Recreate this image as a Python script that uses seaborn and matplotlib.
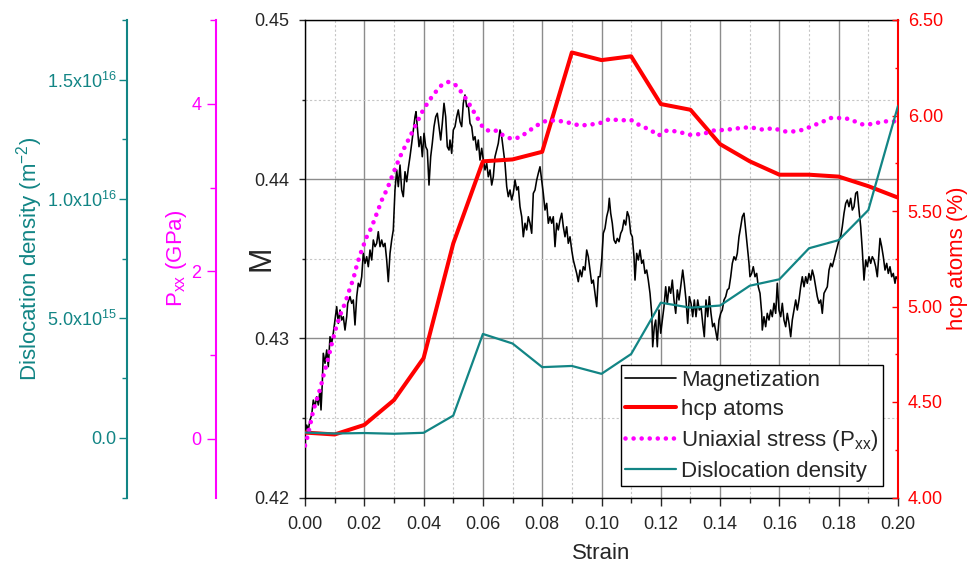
import matplotlib
matplotlib.use("Agg")
import matplotlib.pyplot as plt
from matplotlib.lines import Line2D
from matplotlib.ticker import MultipleLocator, FixedLocator, FormatStrFormatter
import seaborn as sns

# ---------------- data ----------------
strain_steps = [0.00, 0.01, 0.02, 0.03, 0.04, 0.05, 0.06, 0.07, 0.08, 0.09, 0.10,
                0.11, 0.12, 0.13, 0.14, 0.15, 0.16, 0.17, 0.18, 0.19, 0.20]
hcp_pct = [4.34, 4.33, 4.38, 4.51, 4.73, 5.33, 5.76, 5.77, 5.81, 6.33, 6.29,
           6.31, 6.06, 6.03, 5.85, 5.76, 5.69, 5.69, 5.68, 5.63, 5.57]
disloc = [2.2e14, 1.8e14, 2.0e14, 1.7e14, 2.1e14, 9.3e14, 4.35e15, 3.95e15, 2.96e15,
          3.01e15, 2.68e15, 3.51e15, 5.66e15, 5.45e15, 5.54e15, 6.37e15, 6.64e15,
          7.94e15, 8.28e15, 9.54e15, 1.39e16]

strain_p = [0.0, 0.0008, 0.0017, 0.0028, 0.0039, 0.0053, 0.0064, 0.0079, 0.009, 0.0105,
            0.012, 0.0135, 0.0149, 0.0163, 0.0176, 0.0191, 0.0208, 0.0225, 0.0242, 0.0259,
            0.0278, 0.0292, 0.0309, 0.0326, 0.0343, 0.036, 0.0377, 0.0393, 0.041, 0.0433,
            0.046, 0.0483, 0.0506, 0.0523, 0.0545, 0.0565, 0.0585, 0.0601, 0.0624, 0.0647,
            0.0669, 0.0697, 0.0725, 0.0753, 0.0781, 0.0815, 0.0849, 0.0883, 0.0927, 0.0961,
            0.0995, 0.1029, 0.1062, 0.1098, 0.113, 0.1164, 0.1192, 0.122, 0.1254, 0.1298,
            0.1343, 0.1377, 0.1422, 0.1467, 0.1501, 0.1546, 0.158, 0.1613, 0.1647, 0.1681,
            0.1714, 0.1743, 0.1771, 0.1804, 0.1833, 0.1861, 0.1883, 0.1917, 0.195, 0.199]
pxx = [-0.08, 0.02, 0.16, 0.34, 0.46, 0.62, 0.78, 0.97, 1.13, 1.33,
       1.49, 1.62, 1.77, 1.91, 2.09, 2.25, 2.41, 2.53, 2.69, 2.85,
       2.99, 3.12, 3.27, 3.41, 3.53, 3.65, 3.77, 3.89, 3.99, 4.11,
       4.22, 4.26, 4.23, 4.16, 4.05, 3.93, 3.81, 3.71, 3.67, 3.68,
       3.62, 3.58, 3.60, 3.67, 3.74, 3.80, 3.80, 3.78, 3.74, 3.75,
       3.77, 3.82, 3.80, 3.81, 3.74, 3.69, 3.62, 3.68, 3.67, 3.63,
       3.64, 3.68, 3.69, 3.71, 3.72, 3.69, 3.71, 3.67, 3.67, 3.69,
       3.74, 3.78, 3.83, 3.83, 3.82, 3.78, 3.75, 3.76, 3.79, 3.79]

strain_m = [
    0.0, .00057, .00111, .00169, .00226, .0028, .00337, .00395, .00449, .00506,
    .0054, .00583, .00617, .00675, .00732, .00786, .00843, .009, .00954, .01012,
    .01069, .01123, .0118, .01238, .01292, .01349, .01406, .0144, .01518, .01575,
    .01629, .01686, .01744, .01798, .01855, .01912, .01966, .02024, .02081, .02135,
    .02192, .0225, .02304, .02361, .02418, .02472, .0253, .02587, .02641, .02698,
    .02755, .02809, .02867, .02924, .02978, .03035, .03093, .03147, .03204, .03261,
    .03315, .03373, .0343, .03484, .03541, .03599, .03653, .0371, .03744, .03788,
    .03845, .03902, .03956, .04014, .04071, .04125, .04182, .04239, .04293, .04351,
    .04408, .04462, .04519, .04577, .04631, .04688, .04745, .04799, .04857,
    .0489, .04948, .05002, .05059, .05116, .0517, .05228, .05285, .05339, .05396,
    .05454, .05508, .05565, .05622, .05676, .05734, .05791, .05845, .05902, .0596,
    .06014, .06071, .06128, .06182, .0624, .06297, .06351, .06408, .06465, .06519,
    .06577, .06634, .06688, .06745, .06803, .06857, .06914, .06971, .07025, .07083,
    .0714, .07194, .07251, .07309, .07363, .0742, .07477, .07531, .07589, .07646,
    .077, .07757, .07815, .07869, .07926, .07983, .08037, .08094, .08152, .08206,
    .08263, .0832, .08374, .08432, .08489, .08543, .086, .08658, .08712, .08769,
    .08826, .0888, .08938, .08995, .09049, .09106, .09163, .09217, .09275, .09332,
    .09386, .09444, .09501, .09555, .09612, .09669, .09723, .09781, .09838, .09892,
    .09949, .10007, .10061, .10118, .10175, .10229, .10263, .1031, .10364, .10422,
    .10479, .10533, .1059, .10648, .10702, .10759, .10816, .1087, .10927, .10985,
    .11039, .11096, .1113, .11187, .11241, .11298, .11356, .1141, .11467, .11524,
    .11578, .11636, .11693, .11727, .11781, .11828, .11882, .11939, .11997, .12051,
    .12108, .12165, .12219, .12277, .12334, .12388, .12445, .12503, .12557, .12614,
    .12671, .12739, .12793, .1285, .12907, .12961, .13019, .13076, .1313, .13187,
    .13245, .13299, .13356, .13413, .13467, .13524, .13582, .13636, .13693, .1375,
    .13804, .13862, .13906, .13963, .1402, .14074, .14132, .14189, .14243, .143,
    .14358, .14412, .14469, .14526, .1458, .14637, .14695, .14749, .14806, .14863,
    .14917, .14975, .15008, .15065, .15119, .15177, .15234, .15288, .15346, .15403,
    .15423, .1548, .15537, .15591, .15649, .15706, .1576, .15818, .15875, .15929,
    .15986, .16044, .16098, .16155, .16212, .16266, .16324, .16381, .16435, .16492,
    .1655, .16604, .16661, .16718, .16772, .1683, .16887, .16941, .16998, .17056,
    .1711, .17167, .17224, .17278, .17336, .17393, .17447, .17504, .17562, .17616,
    .17673, .1773, .17784, .17841, .17899, .17953, .1801, .18067, .18121, .18179,
    .18236, .1829, .18347, .18405, .18459, .18516, .18573, .18627, .18685, .18742,
    .18796, .18853, .18911, .18965, .19022, .19079, .19133, .19191, .19248, .19302,
    .19359, .19393, .1945, .19504, .19562, .19619, .19673, .1973, .19787, .19841,
    .19899, .19933, .2]
magnet = [
    .42403, .42455, .42424, .42487, .42518, .42612, .4257, .42633, .42581, .42675,
    .4255, .42717, .42906, .42843, .42927, .42822, .4301, .42969, .43032, .43115,
    .43199, .43094, .43178, .43115, .43136, .43052, .43136, .4322, .43262, .4322,
    .43241, .43084, .43262, .43346, .43324, .43387, .43534, .43471, .43513, .4345,
    .43555, .43492, .43618, .43576, .43597, .4367, .43576, .43618, .43576, .43597,
    .43492, .43356, .43534, .43618, .43681, .43932, .44058, .43953, .44089, .43932,
    .4389, .44047, .43984, .44068, .44141, .44225, .44309, .44392, .44424, .4433,
    .44204, .44267, .44141, .44288, .44204, .44183, .43963, .44141, .44225, .4433,
    .44392, .44414, .4433, .44246, .44351, .44477, .44392, .44204, .44183,
    .44246, .44162, .44309, .4433, .44392, .44435, .44361, .4433, .44477, .44529,
    .44455, .44466, .44351, .4433, .44246, .44267, .44183, .44246, .4412, .44194,
    .4412, .44058, .441, .44015, .44058, .43963, .44015, .44141, .44183, .44225,
    .44309, .44267, .44183, .441, .43953, .4389, .43932, .43869, .43911, .43995,
    .43932, .43953, .43827, .43764, .43638, .43723, .43681, .43764, .43723, .4366,
    .43911, .43932, .43995, .44037, .44078, .43995, .43911, .43806, .43848, .43723,
    .43764, .43723, .43764, .43576, .43723, .43681, .43743, .43786, .43701, .43638,
    .43701, .43597, .43638, .43555, .43492, .4345, .43408, .43356, .43429, .43387,
    .4345, .43429, .43555, .43513, .43429, .43346, .43366, .43283, .43199, .43387,
    .43387, .43492, .4366, .43691, .43764, .43806, .4388, .43786, .43723, .43618,
    .43597, .43628, .43607, .4366, .43681, .43743, .43712, .43796, .43764, .4366,
    .43638, .43513, .43366, .43534, .43492, .43555, .43471, .43492, .43408, .43429,
    .43366, .43283, .43157, .42947, .43073, .43115, .42947, .43178, .43032, .43115,
    .43199, .43324, .4322, .43324, .43283, .43366, .43241, .43157, .43304, .43241,
    .43324, .43429, .43346, .43241, .43094, .43262, .4322, .43136, .43241, .43136,
    .43241, .43178, .43199, .43094, .4301, .43241, .43136, .43262, .43157, .43073,
    .43094, .43032, .42989, .43115, .43157, .43178, .43241, .43262, .43304, .43314,
    .43387, .43471, .43513, .43492, .43534, .43638, .43701, .43764, .43786, .43681,
    .43576, .43471, .43387, .43408, .4345, .43387, .43408, .43324, .43283, .43157,
    .43052, .43136, .43073, .43157, .43115, .43178, .43136, .4322, .43157, .43346,
    .43178, .43136, .4322, .43115, .43073, .43157, .43094, .4301, .43115, .43178,
    .43241, .43178, .43241, .43324, .43387, .43324, .43387, .43346, .43408, .43366,
    .43429, .43387, .43324, .43262, .4322, .43241, .43157, .43283, .43304, .43324,
    .43429, .43471, .4345, .43492, .43534, .43576, .43618, .43638, .43701, .43786,
    .43848, .43869, .43827, .4388, .43806, .43827, .43911, .43921, .43806, .43701,
    .43555, .43366, .43492, .4345, .43513, .43471, .43513, .43492, .4345, .43387,
    .43534, .43628, .43576, .43513, .43429, .43471, .43408, .4345, .43387, .43408,
    .43346, .43387, .4337]

x_ticks = [0.00, 0.02, 0.04, 0.06, 0.08, 0.10, 0.12, 0.14, 0.16, 0.18, 0.20]
m_ticks = [0.42, 0.43, 0.44, 0.45]
hcp_ticks = [4.00, 4.50, 5.00, 5.50, 6.00, 6.50]
p_ticks = [0, 2, 4]
d_ticks = [0.0, 5.0e15, 1.0e16, 1.5e16]
d_tick_labels = ["0.0", "5.0x10$^{15}$", "1.0x10$^{16}$", "1.5x10$^{16}$"]
legend_labels = ["Magnetization", "hcp atoms", "Uniaxial stress (P$_{\\mathrm{xx}}$)",
                 "Dislocation density"]

# ---------------- style ----------------
sns.set_style("ticks")
plt.rcParams["font.family"] = ["Liberation Sans", "DejaVu Sans"]
plt.rcParams["mathtext.fontset"] = "custom"
plt.rcParams["mathtext.rm"] = "Liberation Sans"
plt.rcParams["mathtext.it"] = "Liberation Sans:italic"
plt.rcParams["mathtext.bf"] = "Liberation Sans:bold"

RED = "#ff0000"
MAG = "#ff00ff"
TEAL = "#128585"

W, H = 974, 564
L, R, T, B = 305, 898, 20, 497.5
fig = plt.figure(figsize=(W / 100, H / 100), dpi=100)
ax = fig.add_axes([L / W, 1 - B / H, (R - L) / W, (B - T) / H])
axw = R - L

ax_h = ax.twinx()
ax_p = ax.twinx()
ax_d = ax.twinx()

# ---------------- lines ----------------
sns.lineplot(x=strain_m, y=magnet, ax=ax, color="black", lw=1.15,
             estimator=None, sort=False, legend=False)
sns.lineplot(x=strain_steps, y=hcp_pct, ax=ax_h, color=RED, lw=2.9,
             estimator=None, sort=False, legend=False)
sns.lineplot(x=strain_p, y=pxx, ax=ax_p, color=MAG, lw=3.3,
             linestyle=(0, (0.01, 1.75)), dash_capstyle="round",
             estimator=None, sort=False, legend=False)
sns.lineplot(x=strain_steps, y=disloc, ax=ax_d, color=TEAL, lw=1.6,
             estimator=None, sort=False, legend=False)

# ---------------- main axis ----------------
ax.set_xlim(0, 0.2)
ax.set_ylim(0.42, 0.45)
ax.xaxis.set_major_locator(FixedLocator(x_ticks))
ax.xaxis.set_minor_locator(MultipleLocator(0.01))
ax.yaxis.set_major_locator(FixedLocator(m_ticks))
ax.yaxis.set_minor_locator(MultipleLocator(0.005))
ax.xaxis.set_major_formatter(FormatStrFormatter("%.2f"))
ax.yaxis.set_major_formatter(FormatStrFormatter("%.2f"))
ax.grid(which="major", color="#8c8c8c", lw=1.0, ls="-")
ax.grid(which="minor", color="#c6c6c6", lw=0.8, ls=(0, (2, 2)))
ax.set_axisbelow(True)
ax.tick_params(axis="x", which="major", direction="out", length=6, width=1.0,
               labelsize=13, pad=7.5, top=False)
ax.tick_params(axis="x", which="minor", direction="out", length=3.5, width=1.0, top=False)
ax.tick_params(axis="y", which="major", direction="out", length=4, width=1.0,
               labelsize=13, pad=7, right=False)
ax.tick_params(axis="y", which="minor", direction="out", length=2.5, width=1.0, right=False)
for s in ["left", "bottom", "top"]:
    ax.spines[s].set_color("black")
    ax.spines[s].set_linewidth(1.0)
ax.spines["right"].set_visible(False)
ax.set_xlabel("Strain", fontsize=16)
ax.xaxis.set_label_coords(0.5, (B - 543) / (B - T))
ax.set_ylabel("M", fontsize=22)
ax.yaxis.set_label_coords((276 - L) / axw, 0.5)

# ---------------- hcp axis (right) ----------------
ax_h.set_ylim(4.0, 6.5)
ax_h.yaxis.set_major_locator(FixedLocator(hcp_ticks))
ax_h.yaxis.set_minor_locator(MultipleLocator(0.25))
ax_h.yaxis.set_major_formatter(FormatStrFormatter("%.2f"))
ax_h.tick_params(axis="y", which="major", direction="in", length=4, width=1.0,
                 labelsize=13, pad=7, colors=RED)
ax_h.tick_params(axis="y", which="minor", direction="in", length=2.5, width=1.0, colors=RED)
ax_h.spines["right"].set_color(RED)
ax_h.spines["right"].set_linewidth(1.5)
for s in ["left", "top", "bottom"]:
    ax_h.spines[s].set_visible(False)
ax_h.set_ylabel("hcp atoms (%)", fontsize=16, color=RED)
ax_h.yaxis.set_label_coords((947 - L) / axw, 0.5)

# ---------------- Pxx axis (left, offset) ----------------
ax_p.set_ylim(-0.7, 5.0)
ax_p.yaxis.set_label_position("left")
ax_p.yaxis.set_ticks_position("left")
ax_p.spines["left"].set_position(("axes", -89 / axw))
ax_p.spines["left"].set_visible(True)
ax_p.spines["left"].set_color(MAG)
ax_p.spines["left"].set_linewidth(1.5)
for s in ["right", "top", "bottom"]:
    ax_p.spines[s].set_visible(False)
ax_p.yaxis.set_major_locator(FixedLocator(p_ticks))
ax_p.yaxis.set_minor_locator(FixedLocator([1, 3, 5]))
ax_p.tick_params(axis="y", which="major", direction="out", length=6.5, width=1.0,
                 labelsize=13, pad=4, colors=MAG)
ax_p.tick_params(axis="y", which="minor", direction="out", length=4, width=1.0, colors=MAG)
ax_p.set_ylabel("P$_{\\mathrm{xx}}$ (GPa)", fontsize=16, color=MAG)
ax_p.yaxis.set_label_coords((189 - L) / axw, 0.5)

# ---------------- Dislocation axis (left, offset) ----------------
ax_d.set_ylim(-2.5e15, 1.75e16)
ax_d.yaxis.set_label_position("left")
ax_d.yaxis.set_ticks_position("left")
ax_d.spines["left"].set_position(("axes", -178 / axw))
ax_d.spines["left"].set_visible(True)
ax_d.spines["left"].set_color(TEAL)
ax_d.spines["left"].set_linewidth(1.5)
for s in ["right", "top", "bottom"]:
    ax_d.spines[s].set_visible(False)
ax_d.set_yticks(d_ticks, d_tick_labels)
ax_d.yaxis.set_minor_locator(FixedLocator([-2.5e15, 2.5e15, 7.5e15, 1.25e16, 1.75e16]))
ax_d.tick_params(axis="y", which="major", direction="out", length=6, width=1.0,
                 labelsize=13, pad=1.5, colors=TEAL)
ax_d.tick_params(axis="y", which="minor", direction="out", length=3.5, width=1.0, colors=TEAL)
ax_d.set_ylabel("Dislocation density (m$^{-2}$)", fontsize=16, color=TEAL)
ax_d.yaxis.set_label_coords((45 - L) / axw, 0.5)

# ---------------- legend ----------------
handles = [
    Line2D([], [], color="black", lw=1.2),
    Line2D([], [], color=RED, lw=2.9),
    Line2D([], [], color=MAG, lw=3.3, linestyle=(0, (0.01, 1.75)), dash_capstyle="round"),
    Line2D([], [], color=TEAL, lw=1.6),
]
leg = ax_d.legend(handles, legend_labels, loc="lower right",
                  bbox_to_anchor=((883 - L) / axw, (B - 486) / (B - T)),
                  borderaxespad=0, fontsize=16, frameon=True, fancybox=False,
                  framealpha=1, edgecolor="black", handlelength=2.3,
                  handletextpad=0.22, borderpad=0.2, labelspacing=0.36)
leg.get_frame().set_linewidth(1.0)

fig.savefig("out.png", dpi=100)
